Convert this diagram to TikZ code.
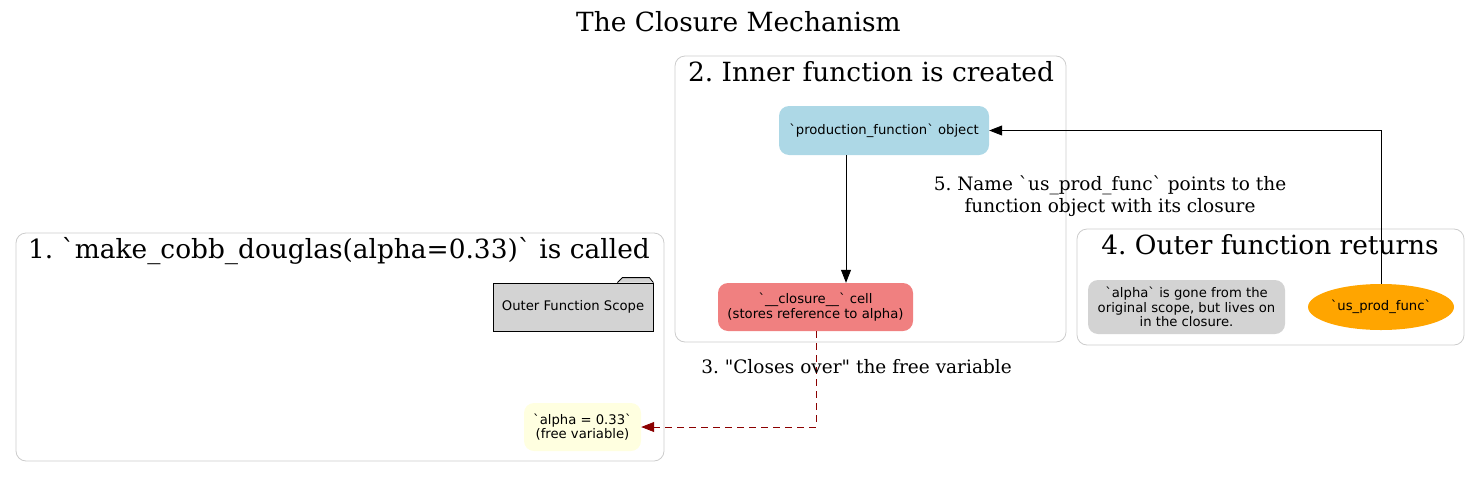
\documentclass[tikz,border=0pt]{standalone}
\usepackage{fontspec}
\setmainfont{DejaVu Serif}[Ligatures=TeXOff]
\setsansfont{DejaVu Sans}[Ligatures=TeXOff]
\usetikzlibrary{arrows.meta,shapes.geometric}
\definecolor{lblue}{HTML}{ADD8E6}
\definecolor{lcoral}{HTML}{F08080}
\definecolor{lyellow}{HTML}{FFFFE0}
\definecolor{lgray}{HTML}{D3D3D3}
\definecolor{orangec}{HTML}{FFA500}
\definecolor{dred}{HTML}{8B0000}
\definecolor{clusterc}{HTML}{CCCCCC}
\newcommand\bq{\textasciigrave}
\frenchspacing
\begin{document}
\begin{tikzpicture}[x=1pt,y=-1pt,
  cluster/.style={draw=clusterc, rounded corners=10pt, line width=0.8pt},
  clabel/.style={font=\fontsize{26.4}{30}\selectfont, inner sep=0, anchor=base},
  nfont/.style={font=\sffamily\fontsize{13.2}{14.5}\selectfont},
  rbox/.style={rounded corners=10pt, nfont, align=center, inner sep=0},
  elabel/.style={font=\fontsize{18.5}{21.5}\selectfont, align=center, inner sep=0},
  arr/.style={-{Triangle[length=13pt,width=10pt]}, line width=0.8pt},
]
\useasboundingbox (0,0) rectangle (1480,477);
\node[clabel] (title) at (738.5,31.5) {The Closure Mechanism};
% clusters
\draw[cluster] (16,233) rectangle (664,461);
\node[clabel] (c1) at (339,258.5) {1. \bq make\_cobb\_douglas(alpha=0.33)\bq\ is called};
\draw[cluster] (675,56) rectangle (1066,342);
\node[clabel] (c2) at (871,81.5) {2. Inner function is created};
\draw[cluster] (1077,229) rectangle (1464,345);
\node[clabel] (c4) at (1270,254.5) {4. Outer function returns};
% nodes
\node[rbox, fill=lblue, minimum width=210pt, minimum height=49pt] (prod) at (884,130.5) {\bq production\_function\bq\ object};
\node[rbox, fill=lcoral, minimum width=195pt, minimum height=48pt] (closure) at (815.5,307) {\bq\_\_closure\_\_\bq\ cell\\(stores reference to alpha)};
\node[rbox, fill=lyellow, minimum width=117pt, minimum height=48pt] (alpha) at (582.5,427) {\bq alpha = 0.33\bq\\(free variable)};
\node[rbox, fill=lgray, minimum width=197pt, minimum height=54pt] (gone) at (1186.5,307) {\bq alpha\bq\ is gone from the\\original scope, but lives on\\in the closure.};
\node[ellipse, fill=orangec, minimum width=146pt, minimum height=46pt, inner sep=0, nfont] (us) at (1381,307) {\bq us\_prod\_func\bq};
\node[draw=black, fill=lgray, line width=0.8pt, minimum width=160pt, minimum height=48pt, inner sep=0, nfont] (scope) at (573,307) {Outer Function Scope};
\draw[fill=lgray, line width=0.8pt] ([xshift=-36pt]scope.north east) -- ([xshift=-31pt,yshift=5pt]scope.north east) -- ([xshift=-4pt,yshift=5pt]scope.north east) -- (scope.north east);
% edges
\draw[arr] (prod.south -| 846,0) -- (closure.north -| 846,0);
\draw[arr] (us.north) |- (prod.east);
\node[elabel] (l5) at (1110,196) {5. Name \bq us\_prod\_func\bq\ points to the\\function object with its closure};
\draw[arr, dash pattern=on 7pt off 5pt, color=dred] (closure.south -| 816,0) |- (alpha.east);
\node[elabel, anchor=base] (l3) at (856.5,373.5) {3. "Closes over" the free variable};
\end{tikzpicture}
\end{document}
